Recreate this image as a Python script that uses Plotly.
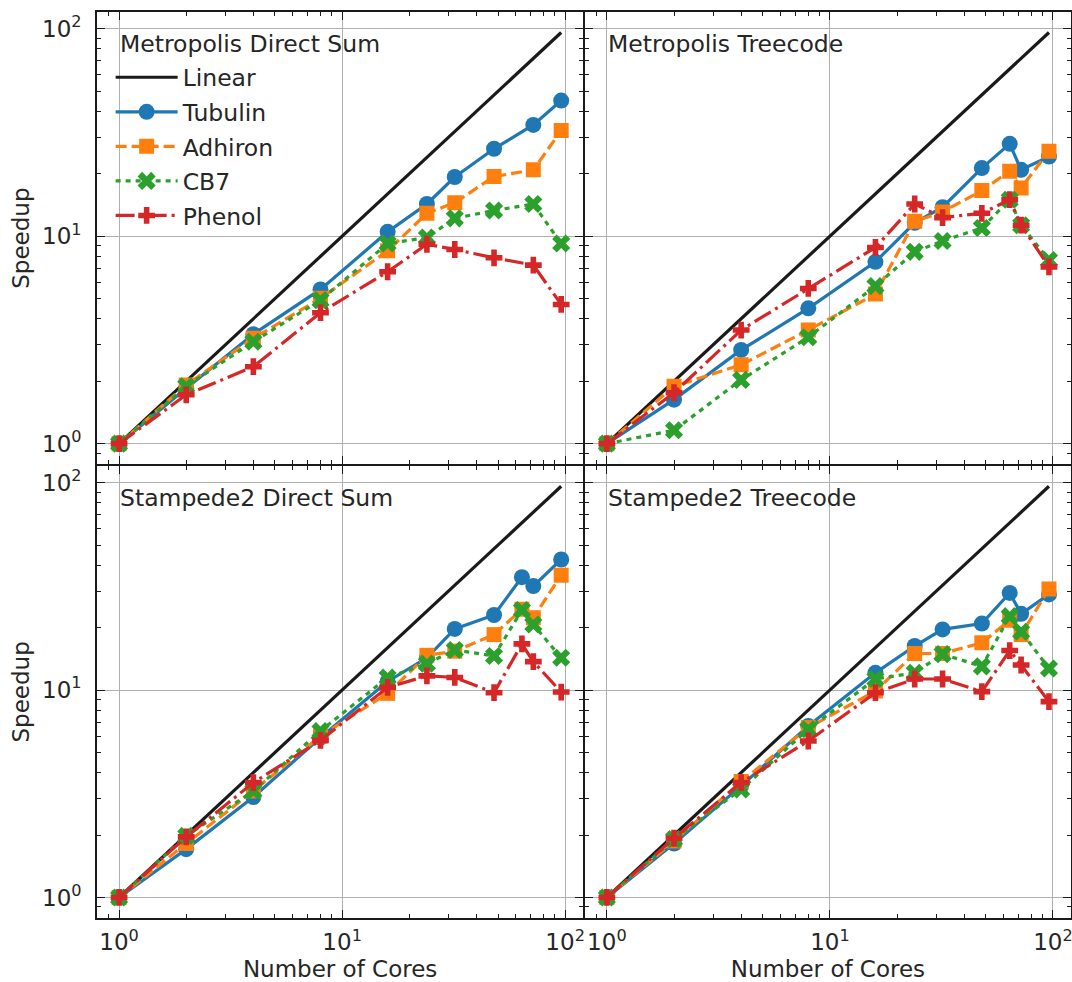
import plotly.graph_objects as go
from plotly.subplots import make_subplots

# ---------------- data ----------------
panel_titles = ["Metropolis Direct Sum", "Metropolis Treecode",
                "Stampede2 Direct Sum", "Stampede2 Treecode"]
series_names = ["Tubulin", "Adhiron", "CB7", "Phenol"]

cores_md = [1, 2, 4, 8, 16, 24, 32, 48, 72, 96]
cores_full = [1, 2, 4, 8, 16, 24, 32, 48, 64, 72, 96]
linear_x = [1, 96]
linear_y = [1, 96]

# Metropolis Direct Sum
md_tubulin = [1, 1.85, 3.37, 5.54, 10.5, 14.3, 19.3, 26.4, 34.4, 45.1]
md_adhiron = [1, 1.92, 3.22, 5.02, 8.5, 12.9, 14.5, 19.4, 20.9, 32.3]
md_cb7 = [1, 1.89, 3.10, 4.92, 9.22, 9.85, 12.2, 13.3, 14.3, 9.22]
md_phenol = [1, 1.72, 2.35, 4.28, 6.74, 9.15, 8.63, 7.87, 7.26, 4.69]

# Metropolis Treecode
mt_tubulin = [1, 1.63, 2.83, 4.49, 7.53, 11.6, 13.8, 21.3, 27.9, 20.9, 24.2]
mt_adhiron = [1, 1.89, 2.40, 3.53, 5.26, 11.8, 13.1, 16.6, 20.6, 17.1, 25.7]
mt_cb7 = [1, 1.16, 2.03, 3.26, 5.75, 8.41, 9.49, 10.96, 15.0, 11.3, 7.67]
mt_phenol = [1, 1.76, 3.53, 5.60, 8.83, 14.3, 12.3, 12.9, 15.0, 11.3, 7.12]

# Stampede2 Direct Sum
sd_tubulin = [1, 1.71, 3.05, 5.9, 11.0, 14.3, 19.7, 23.0, 35.0, 31.7, 42.6]
sd_adhiron = [1, 1.82, 3.26, 6.0, 9.64, 14.7, 15.4, 18.5, 24.5, 22.3, 35.8]
sd_cb7 = [1, 1.98, 3.26, 6.35, 11.5, 13.4, 15.6, 14.6, 24.3, 20.7, 14.3]
sd_phenol = [1, 1.96, 3.58, 5.72, 10.3, 11.7, 11.5, 9.71, 16.7, 13.7, 9.78]

# Stampede2 Treecode
st_tubulin = [1, 1.82, 3.45, 6.71, 12.1, 16.3, 19.6, 20.9, 29.4, 23.3, 28.9]
st_adhiron = [1, 1.87, 3.62, 6.59, 9.89, 15.0, 15.0, 16.9, 21.7, 18.5, 30.7]
st_cb7 = [1, 1.91, 3.32, 6.47, 11.3, 12.1, 14.9, 13.0, 22.7, 19.1, 12.7]
st_phenol = [1, 1.93, 3.58, 5.68, 9.71, 11.3, 11.3, 9.82, 15.5, 13.2, 8.79]

major_vals = [1, 10, 100]
major_text = ["10<sup>0</sup>", "10<sup>1</sup>", "10<sup>2</sup>"]
minor_vals = [0.8, 0.9, 2, 3, 4, 5, 6, 7, 8, 9, 20, 30, 40, 50, 60, 70, 80, 90]

# ---------------- styling ----------------
FONT = "DejaVu Sans"
TXT = "#262626"
colors = ["#1f77b4", "#ff7f0e", "#2ca02c", "#d62728"]
dashes = ["solid", "11px,5px", "5px,5px", "19px,5px,3px,5px"]
symbols = ["circle", "square", "x", "cross"]
msizes = [16, 15, 16, 14]
LW = 3.2
AXLW = 1.6
PW, PH = 974, 906

panels = [
    (1, 1, cores_md, [md_tubulin, md_adhiron, md_cb7, md_phenol]),
    (1, 2, cores_full, [mt_tubulin, mt_adhiron, mt_cb7, mt_phenol]),
    (2, 1, cores_full, [sd_tubulin, sd_adhiron, sd_cb7, sd_phenol]),
    (2, 2, cores_full, [st_tubulin, st_adhiron, st_cb7, st_phenol]),
]

fig = make_subplots(rows=2, cols=2, shared_xaxes=True, shared_yaxes=True,
                    horizontal_spacing=AXLW / PW, vertical_spacing=AXLW / PH)

for i, (r, c, xs, ys_list) in enumerate(panels):
    first = i == 0
    fig.add_trace(go.Scatter(x=linear_x, y=linear_y, mode="lines", name="Linear",
                             legendgroup="Linear", showlegend=first,
                             line=dict(color="#1a1a1a", width=LW)), row=r, col=c)
    for j, name in enumerate(series_names):
        fig.add_trace(go.Scatter(
            x=xs, y=ys_list[j], mode="lines+markers", name=name,
            legendgroup=name, showlegend=first,
            line=dict(color=colors[j], width=LW, dash=dashes[j]),
            marker=dict(symbol=symbols[j], size=msizes[j], color=colors[j],
                        line=dict(width=0))), row=r, col=c)

axis_common = dict(
    type="log", range=[-0.099, 2.081], automargin=False,
    showline=True, linecolor="#1a1a1a", linewidth=AXLW, mirror="ticks",
    ticks="inside", ticklen=8, tickwidth=1.4, tickcolor="#1a1a1a",
    tickmode="array", tickvals=major_vals, ticktext=major_text,
    showgrid=True, gridcolor="#b0b0b0", gridwidth=1.4,
    zeroline=False, ticklabeloverflow="allow",
    minor=dict(ticks="inside", ticklen=4, tickwidth=1.2, tickcolor="#1a1a1a",
               tickmode="array", tickvals=minor_vals, showgrid=False),
    tickfont=dict(family=FONT, size=23, color=TXT),
)
fig.update_xaxes(**axis_common, ticklabelstandoff=3)
fig.update_yaxes(**axis_common, ticklabelstandoff=9)

fig.update_xaxes(title=dict(text="Number of Cores", font=dict(family=FONT, size=23, color=TXT),
                            standoff=8), row=2)
fig.update_yaxes(title=dict(text="Speedup", font=dict(family=FONT, size=23, color=TXT),
                            standoff=6), col=1)

# panel titles
for i, (r, c, xs, ys_list) in enumerate(panels):
    k = i + 1
    xr = "x domain" if k == 1 else f"x{k} domain"
    yr = "y domain" if k == 1 else f"y{k} domain"
    fig.add_annotation(text=panel_titles[i], xref=xr, yref=yr, x=0.044, y=0.929,
                       xanchor="left", yanchor="middle", showarrow=False,
                       font=dict(family=FONT, size=23.5, color=TXT))

fig.update_layout(
    width=1072, height=982,
    margin=dict(l=97, r=1, t=12, b=64, autoexpand=False),
    plot_bgcolor="white", paper_bgcolor="white",
    font=dict(family=FONT, color=TXT, size=22),
    hovermode=False,
    legend=dict(x=0.014, y=0.952, xanchor="left", yanchor="top",
                bgcolor="rgba(255,255,255,0)", borderwidth=0,
                font=dict(family=FONT, size=23.5, color=TXT),
                tracegroupgap=1, itemwidth=62),
)

fig.write_html("out.html", config={"displayModeBar": False},
               post_script="document.body.style.margin='0';document.body.style.overflow='hidden';")
